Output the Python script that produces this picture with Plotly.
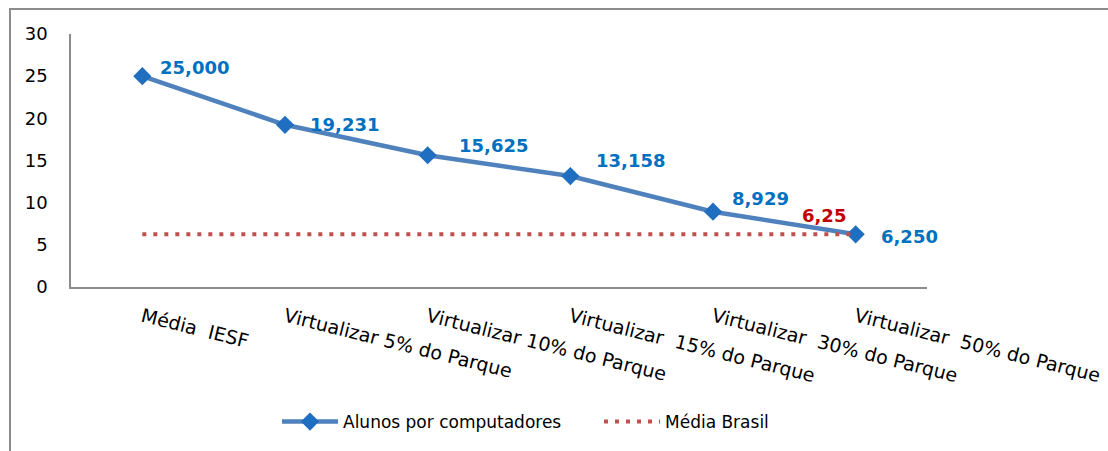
import plotly.graph_objects as go

categories = ["Média\u00a0 IESF", "Virtualizar 5% do Parque", "Virtualizar 10% do Parque",
              "Virtualizar\u00a0 15% do Parque", "Virtualizar\u00a0 30% do Parque", "Virtualizar\u00a0 50% do Parque"]
alunos = [25.0, 19.231, 15.625, 13.158, 8.929, 6.25]
media_brasil = [6.25, 6.25, 6.25, 6.25, 6.25, 6.25]
y_ticks = [0, 5, 10, 15, 20, 25, 30]

# label offsets (pixels) for data labels
label_xshift = [16, 23, 29, 24, 17, 23]
label_yshift = [9, 0, 10, 16, 13, -2]

W, H = 1108, 451
L, R, T, B = 71, 181, 34, 164
pw, ph = W - L - R, H - T - B

def px_x(p):
    return (p - L) / pw

def px_y(p):
    return (H - B - p) / ph

FONT = "DejaVu Sans"

fig = go.Figure()
fig.add_trace(go.Scatter(
    x=categories, y=alunos, mode="lines+markers", name="Alunos por computadores",
    line=dict(color="#4F81BD", width=4.5),
    marker=dict(symbol="diamond", size=14, color="#1F6EC0", line=dict(width=0)),
))
fig.add_trace(go.Scatter(
    x=categories, y=media_brasil, mode="lines", name="Média Brasil",
    line=dict(color="#C0504D", width=4, dash="4px,7px"),
))

annotations = []
for i, (c, v) in enumerate(zip(categories, alunos)):
    annotations.append(dict(
        x=c, y=v, xref="x", yref="y", text=f"{v:.3f}".replace(".", ","),
        showarrow=False, xanchor="left", yanchor="middle",
        xshift=label_xshift[i], yshift=label_yshift[i],
        font=dict(family=FONT, size=18, color="#0070C0", weight="bold"),
    ))
last = len(categories) - 1
annotations.append(dict(
    x=categories[last], y=media_brasil[last], xref="x", yref="y",
    text=f"{media_brasil[last]:.2f}".replace(".", ","),
    showarrow=False, xanchor="right", yanchor="middle", xshift=-8, yshift=19,
    font=dict(family=FONT, size=18, color="#C00000", weight="bold"),
))

fig.update_layout(
    width=W, height=H,
    margin=dict(l=L, r=R, t=T, b=B, pad=0, autoexpand=False),
    paper_bgcolor="white", plot_bgcolor="white",
    font=dict(family=FONT, size=17, color="#000000"),
    showlegend=True,
    legend=dict(orientation="h", x=px_x(277), y=px_y(422), xanchor="left", yanchor="middle",
                font=dict(family=FONT, size=17), itemwidth=56,
                entrywidth=251, entrywidthmode="pixels", bgcolor="rgba(0,0,0,0)"),
    annotations=annotations,
    shapes=[dict(type="rect", xref="paper", yref="paper",
                 x0=px_x(10), x1=px_x(1130), y0=px_y(470), y1=px_y(9),
                 line=dict(color="#8C8C8C", width=2), fillcolor="rgba(0,0,0,0)", layer="below")],
)
fig.update_xaxes(type="category", range=[-0.5, len(categories) - 0.5], automargin=False,
                 showline=True, linecolor="#8C8C8C", linewidth=1.5, showgrid=False,
                 ticks="", tickangle=14, ticklabelstandoff=10,
                 tickfont=dict(family=FONT, size=19), zeroline=False)
fig.update_yaxes(range=[0, 30], tickvals=y_ticks, automargin=False,
                 showline=True, linecolor="#8C8C8C", linewidth=1.5,
                 showgrid=False, ticks="", zeroline=False, ticklabelstandoff=18,
                 tickfont=dict(family=FONT, size=18))

fig.write_html("out.html", config={"displayModeBar": False},
               post_script="document.body.style.margin='0';")
